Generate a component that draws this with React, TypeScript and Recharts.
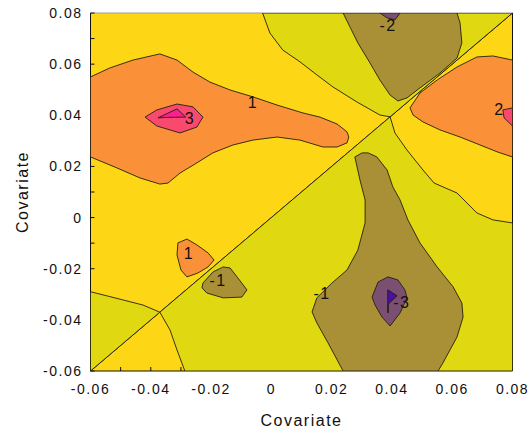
import React from 'react';
import { ScatterChart, Scatter, XAxis, YAxis, CartesianGrid, ReferenceLine, LabelList } from 'recharts';

// contour zones, [x, y] vertices in data units
const ygTop = [[-0.0029, 0.08], [0.08, 0.08], [0.0394, 0.0394], [0.036, 0.0401], [0.0284, 0.0452], [0.0204, 0.0511], [0.0151, 0.0558], [0.0095, 0.0609], [0.0038, 0.0655], [-0.0005, 0.0722]];
const ygLeft = [[-0.06, -0.029], [-0.0536, -0.0309], [-0.0426, -0.0342], [-0.037, -0.037], [-0.06, -0.06]];
const ygRight = [[-0.037, -0.037], [0.0394, 0.0394], [0.041, 0.0331], [0.045, 0.0264], [0.0503, 0.0186], [0.054, 0.0135], [0.0616, 0.0096], [0.0682, 0.0018], [0.0735, -0.0009], [0.08, -0.0021], [0.08, -0.06], [-0.0287, -0.06], [-0.0313, -0.0518], [-0.0336, -0.044]];

const orangeLeft = [[-0.06, 0.055], [-0.0536, 0.0585], [-0.0459, 0.0616], [-0.037, 0.064], [-0.0313, 0.0616], [-0.026, 0.0569], [-0.0204, 0.053], [-0.0137, 0.0499], [-0.0061, 0.0472], [0.0019, 0.044], [0.0105, 0.0409], [0.0161, 0.0393], [0.0218, 0.0366], [0.0251, 0.0335], [0.0257, 0.0315], [0.0251, 0.0292], [0.0218, 0.0276], [0.0171, 0.0276], [0.0095, 0.0303], [0.0019, 0.0315], [-0.0061, 0.0303], [-0.0127, 0.0284], [-0.0194, 0.0253], [-0.0247, 0.0214], [-0.0303, 0.0174], [-0.0343, 0.0135], [-0.037, 0.0131], [-0.0436, 0.0155], [-0.0512, 0.0194], [-0.06, 0.0237]];
const pinkLeft = [[-0.0419, 0.0393], [-0.038, 0.0421], [-0.0313, 0.0444], [-0.026, 0.0433], [-0.0227, 0.0393], [-0.0247, 0.0354], [-0.0303, 0.0331], [-0.038, 0.0358]];
const peakLeft = [[-0.0376, 0.039], [-0.0313, 0.0425], [-0.0284, 0.0393], [-0.034, 0.0392]];
const orangeSmall = [[-0.031, -0.0099], [-0.028, -0.0084], [-0.0247, -0.0107], [-0.021, -0.0138], [-0.019, -0.0166], [-0.021, -0.0193], [-0.0244, -0.0217], [-0.028, -0.0232], [-0.03, -0.0205], [-0.0313, -0.0146]];
const orangeRight = [[0.046, 0.0429], [0.0493, 0.0487], [0.055, 0.0538], [0.0616, 0.0589], [0.0682, 0.0628], [0.0735, 0.0632], [0.08, 0.0616], [0.08, 0.0237], [0.0749, 0.0257], [0.0692, 0.0284], [0.0626, 0.0315], [0.0559, 0.0343], [0.0503, 0.0374], [0.047, 0.0401]];
const pinkRight = [[0.0768, 0.0421], [0.08, 0.0429], [0.08, 0.0358], [0.0772, 0.039]];

const oliveTop = [[0.0238, 0.08], [0.0261, 0.0745], [0.0287, 0.0683], [0.0327, 0.0605], [0.036, 0.0538], [0.0394, 0.0479], [0.042, 0.0456], [0.045, 0.0468], [0.0493, 0.0507], [0.0559, 0.0565], [0.0616, 0.0624], [0.0632, 0.0683], [0.0626, 0.0761], [0.0616, 0.08]];
const purpleTop = [[0.036, 0.08], [0.0384, 0.0781], [0.041, 0.0773], [0.0427, 0.08]];
const oliveSmall = [[-0.023, -0.0275], [-0.0227, -0.0256], [-0.0194, -0.0213], [-0.016, -0.0193], [-0.0137, -0.0197], [-0.0111, -0.0236], [-0.0081, -0.0283], [-0.0098, -0.0311], [-0.016, -0.0314], [-0.0214, -0.0295]];
const oliveBottom = [[0.0238, -0.06], [0.0188, -0.049], [0.0151, -0.0412], [0.0135, -0.0369], [0.0151, -0.0314], [0.0201, -0.0256], [0.0251, -0.0205], [0.0287, -0.0127], [0.0311, -0.0021], [0.0311, 0.0069], [0.0294, 0.0147], [0.0277, 0.0237], [0.0301, 0.0253], [0.0321, 0.0253], [0.035, 0.0237], [0.0384, 0.0186], [0.0403, 0.012], [0.0427, 0.0069], [0.0453, -0.0009], [0.0493, -0.0099], [0.055, -0.0193], [0.0603, -0.0271], [0.0632, -0.0334], [0.0636, -0.0389], [0.0616, -0.0467], [0.0569, -0.0569], [0.0553, -0.06]];
const purpleBottom = [[0.0334, -0.0311], [0.0354, -0.0252], [0.0387, -0.0232], [0.042, -0.0244], [0.0443, -0.0283], [0.045, -0.0314], [0.0427, -0.0373], [0.0394, -0.0424], [0.0367, -0.0389], [0.0344, -0.0342]];
const peakBottom = [[0.0387, -0.0283], [0.0417, -0.0306], [0.0388, -0.0338], [0.0388, -0.0372], [0.0386, -0.0372], [0.0386, -0.0283]];

// contour level labels
const labelX = [-0.0061, -0.027, -0.0273, -0.0177, 0.0387, 0.0757, 0.0168, 0.0433];
const labelY = [0.0452, 0.039, -0.0138, -0.0244, 0.0753, 0.0424, -0.0295, -0.033];
const labelText = ['1', '3', '1', '-1', '-2', '2', '-1', '-3'];

const xTicks = [-0.06, -0.05, -0.04, -0.03, -0.02, -0.01, 0, 0.01, 0.02, 0.03, 0.04, 0.05, 0.06, 0.07, 0.08];
const yTicks = [-0.06, -0.05, -0.04, -0.03, -0.02, -0.01, 0, 0.01, 0.02, 0.03, 0.04, 0.05, 0.06, 0.07, 0.08];

const GOLD = '#FDD716';
const layers: [number[][], string][] = [
  [ygTop, '#E0D811'],
  [ygLeft, '#E0D811'],
  [ygRight, '#E0D811'],
  [orangeLeft, '#FA9138'],
  [pinkLeft, '#F9496F'],
  [peakLeft, '#FF1E90'],
  [orangeSmall, '#FA9138'],
  [orangeRight, '#FA9138'],
  [pinkRight, '#F9496F'],
  [oliveTop, '#A99037'],
  [purpleTop, '#7A4F72'],
  [oliveSmall, '#A99037'],
  [oliveBottom, '#A99037'],
  [purpleBottom, '#7A4F72'],
  [peakBottom, '#4A10A0'],
];

const toPts = (arr: number[][]) => arr.map(([x, y]) => ({ x, y }));
const labels = labelText.map((t, i) => ({ x: labelX[i], y: labelY[i], t }));

const fmt = (v: number) => {
  if (Math.round(v * 100) % 2 !== 0) return '';
  return v === 0 ? '0' : v.toFixed(2);
};

const noDot = () => <g />;

const YTitle = (props: any) => {
  const vb = props.viewBox || { x: 0, y: 0, height: 0 };
  const cx = vb.x + 22;
  const cy = vb.y + vb.height / 2;
  return (
    <text x={cx} y={cy} transform={`rotate(-90, ${cx}, ${cy})`} textAnchor="middle" dominantBaseline="central" fontSize={16} fill="#111">
      Covariate
    </text>
  );
};

export default function App() {
  return (
    <div style={{ position: 'absolute', left: 0, top: 0, fontFamily: '"Liberation Sans", Arial, sans-serif', letterSpacing: '1.5px', fontSize: 14 }}>
      <ScatterChart width={531} height={432} margin={{ top: 13, right: 18.5, bottom: 0, left: 0 }}>
        <CartesianGrid horizontal={false} vertical={false} fill={GOLD} />
        <XAxis
          type="number"
          dataKey="x"
          domain={[-0.06, 0.08]}
          allowDataOverflow
          ticks={xTicks}
          tickFormatter={fmt}
          height={61}
          tickSize={-4}
          tickMargin={17}
          stroke="#111"
          tick={{ fill: '#111', fontSize: 14 }}
          label={{ value: 'Covariate', position: 'insideBottom', offset: 6, fill: '#111', fontSize: 16 }}
        />
        <YAxis
          type="number"
          dataKey="y"
          domain={[-0.06, 0.08]}
          allowDataOverflow
          ticks={yTicks}
          tickFormatter={fmt}
          width={90.5}
          tickSize={-4}
          tickMargin={12}
          stroke="#111"
          tick={{ fill: '#111', fontSize: 14 }}
          label={<YTitle />}
        />
        {layers.map(([pts, color], i) => (
          <Scatter
            key={i}
            data={toPts(pts)}
            fill={color}
            shape={noDot}
            line={{ fill: color, stroke: '#231f0f', strokeWidth: 0.9 }}
            lineJointType="linearClosed"
            isAnimationActive={false}
          />
        ))}
        <ReferenceLine segment={[{ x: -0.06, y: -0.06 }, { x: 0.08, y: 0.08 }]} stroke="#111" strokeWidth={1} />
        <ReferenceLine y={0.08} stroke="#9a9a9a" strokeWidth={1} />
        <ReferenceLine x={0.08} stroke="#111" strokeWidth={1} />
        <Scatter data={labels} shape={noDot} isAnimationActive={false}>
          <LabelList dataKey="t" position="center" fill="#111" fontSize={16} />
        </Scatter>
      </ScatterChart>
    </div>
  );
}
